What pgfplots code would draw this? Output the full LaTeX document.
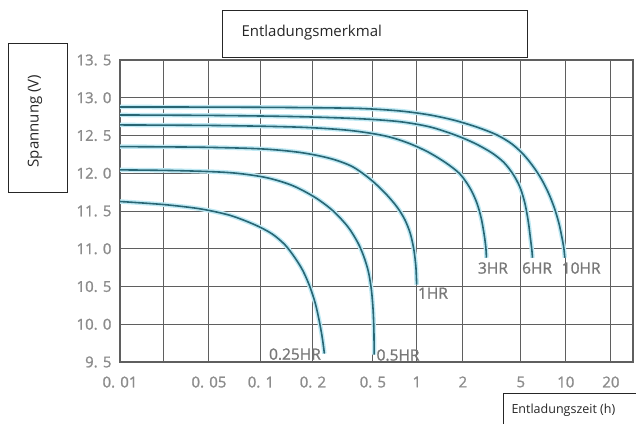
\documentclass[border=0pt]{standalone}
\usepackage{pgfplots}
\pgfplotsset{compat=1.18}
\usepackage{pgfplotstable}
\usepackage{fontspec}
\setmainfont{Open Sans}
\newfontfamily\boldish[FakeBold=1.3]{Open Sans}
\definecolor{curve}{RGB}{40,102,116}
\definecolor{glow}{RGB}{190,233,244}
\definecolor{gridc}{RGB}{95,95,95}
\definecolor{tickc}{RGB}{140,140,140}
\definecolor{lblc}{RGB}{120,120,120}
\tikzset{
  glowline/.style={glow, line width=4.5pt, smooth, tension=0.5},
  mainline/.style={curve, line width=1.6pt, smooth, tension=0.5},
  lbl/.style={font=\boldish\fontsize{15.5}{17}\selectfont, text=lblc, inner sep=0pt},
}

\pgfplotstableread{
x y
0.01 12.878
0.0579 12.876
0.1681 12.870
0.4101 12.858
0.7651 12.825
1.216 12.772
1.773 12.700
2.534 12.607
3.422 12.508
4.337 12.389
5.238 12.243
6.109 12.078
6.912 11.913
7.697 11.728
8.377 11.542
8.978 11.344
9.402 11.159
9.696 11.013
9.847 10.881
}\tenHR
\pgfplotstableread{
x y
0.01 12.772
0.0579 12.765
0.1681 12.749
0.4101 12.722
0.7651 12.683
1.216 12.614
1.773 12.508
2.417 12.396
3.162 12.270
3.822 12.144
4.407 11.992
4.921 11.820
5.317 11.608
5.612 11.357
5.814 11.119
5.924 10.987
5.988 10.881
}\sixHR
\pgfplotstableread{
x y
0.01 12.640
0.0579 12.632
0.1681 12.610
0.3519 12.567
0.6041 12.495
0.8679 12.402
1.180 12.283
1.548 12.138
1.911 11.992
2.234 11.807
2.495 11.608
2.679 11.397
2.809 11.172
2.877 11.013
2.904 10.881
}\threeHR
\pgfplotstableread{
x y
0.01 12.353
0.04163 12.345
0.1 12.323
0.1681 12.276
0.2594 12.197
0.3628 12.091
0.4775 11.926
0.6041 11.741
0.7296 11.556
0.8278 11.384
0.9026 11.198
0.9539 10.987
0.9845 10.762
0.9969 10.524
}\oneHR
\pgfplotstableread{
x y
0.01 12.045
0.0277 12.034
0.06614 12.008
0.1055 11.946
0.1512 11.840
0.2062 11.681
0.2716 11.503
0.3413 11.291
0.3977 11.079
0.4358 10.894
0.4669 10.696
0.4887 10.458
0.5016 10.193
0.5079 9.929
0.5104 9.598
}\halfHR
\pgfplotstableread{
x y
0.01 11.626
0.02 11.585
0.04163 11.529
0.06614 11.443
0.09232 11.317
0.1158 11.198
0.1377 11.053
0.1573 10.881
0.1750 10.709
0.1921 10.497
0.2077 10.272
0.2209 10.034
0.2312 9.810
0.2384 9.611
}\quarterHR

\begin{document}
\begin{tikzpicture}
\useasboundingbox (0pt,0pt) rectangle (636pt,-423pt);
\draw[line width=0.9pt,black!85] (222pt,-10pt) rectangle (527pt,-57pt);
\node[anchor=west,font=\fontsize{15}{18}\selectfont,text=black!85] at (238pt,-33pt) {Entladungsmerkmal};
\draw[line width=0.9pt,black!85] (8pt,-43pt) rectangle (67pt,-192pt);
\node[rotate=90,font=\fontsize{15}{18}\selectfont,text=black!85] at (35pt,-121pt) {Spannung (V)};
\draw[line width=0.9pt,black!85] (503pt,-393pt) rectangle (680pt,-450pt);
\node[anchor=west,font=\fontsize{12.5}{15}\selectfont,text=black!85] at (508pt,-410pt) {Entladungszeit (h)};
\coordinate (AX) at (120pt,-362pt);
\begin{axis}[
  at={(AX)}, anchor=south west,
  scale only axis, width=513pt, height=302pt,
  x coord trafo/.code={%
    \edef\myu{\fpeval{ln(#1)/ln(10)}}%
    \edef\pgfmathresult{\fpeval{
      \myu < -1.699 ? (120+(\myu+2)*44/0.301) : (
      \myu < -1.301 ? (164+(\myu+1.699)*45/0.398) : (
      \myu < -1 ? (209+(\myu+1.301)*52/0.301) : (
      \myu < -0.699 ? (261+(\myu+1)*52/0.301) : (
      \myu < -0.301 ? (313+(\myu+0.699)*60/0.398) : (
      \myu < 0 ? (373+(\myu+0.301)*44/0.301) : (
      \myu < 0.301 ? (417+\myu*46/0.301) : (
      \myu < 0.699 ? (463+(\myu-0.301)*58/0.398) : (
      \myu < 1 ? (521+(\myu-0.699)*45/0.301) : (
      566+(\myu-1)*150)))))))))}}%
  },
  xmin=0.01, xmax=28.07, ymin=9.5, ymax=13.5,
  enlargelimits=false,
  xtick={0.01,0.02,0.05,0.1,0.2,0.5,1,2,5,10,20},
  xticklabels={0. 01,,0. 05,0. 1,0. 2,0. 5,1,2,5,10,20},
  ytick={9.5,10,10.5,11,11.5,12,12.5,13,13.5},
  yticklabels={9. 5,10. 0,10. 5,11. 0,11. 5,12. 0,12. 5,13. 0,13. 5},
  grid=major,
  major grid style={gridc, line width=1pt},
  axis line style={gridc, line width=1.8pt},
  major tick length=0pt,
  ticklabel style={font=\boldish\fontsize{15}{18}\selectfont, text=tickc},
  xticklabel style={yshift=-11pt},
  yticklabel style={xshift=-5pt},
]
\addplot[glowline, no marks] table {\tenHR};
\addplot[glowline, no marks] table {\sixHR};
\addplot[glowline, no marks] table {\threeHR};
\addplot[glowline, no marks] table {\oneHR};
\addplot[glowline, no marks] table {\halfHR};
\addplot[glowline, no marks] table {\quarterHR};
\addplot[mainline, no marks] table {\tenHR};
\addplot[mainline, no marks] table {\sixHR};
\addplot[mainline, no marks] table {\threeHR};
\addplot[mainline, no marks] table {\oneHR};
\addplot[mainline, no marks] table {\halfHR};
\addplot[mainline, no marks] table {\quarterHR};
\node[lbl] at (rel axis cs:0.341,0.026) {0.25HR};
\node[lbl] at (rel axis cs:0.542,0.023) {0.5HR};
\node[lbl] at (rel axis cs:0.610,0.228) {1HR};
\node[lbl] at (rel axis cs:0.727,0.311) {3HR};
\node[lbl] at (rel axis cs:0.813,0.311) {6HR};
\node[lbl] at (rel axis cs:0.899,0.311) {10HR};
\end{axis}
\end{tikzpicture}
\end{document}
